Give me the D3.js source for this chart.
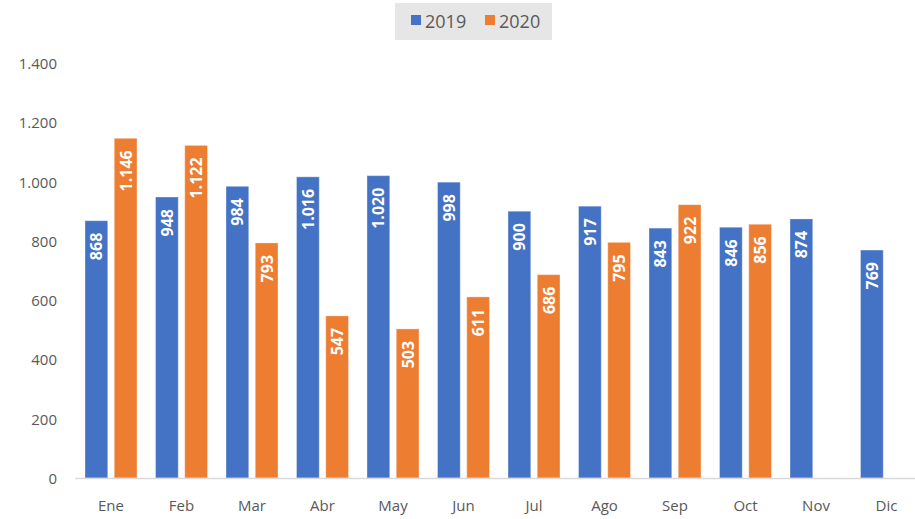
<!DOCTYPE html>
<html>
<head>
<meta charset="utf-8">
<script src="https://cdn.jsdelivr.net/npm/d3@7"></script>
<style>
  body { margin: 0; background: #fff; }
  svg { display: block; font-family: "Open Sans", Lato, sans-serif; }
</style>
</head>
<body>
<svg id="chart" width="915" height="519"></svg>
<script>
// data
var months = ["Ene", "Feb", "Mar", "Abr", "May", "Jun", "Jul", "Ago", "Sep", "Oct", "Nov", "Dic"];
var series = ["2019", "2020"];
var values2019 = [868, 948, 984, 1016, 1020, 998, 900, 917, 843, 846, 874, 769];
var values2020 = [1146, 1122, 793, 547, 503, 611, 686, 795, 922, 856, null, null];
var yTicks = [0, 200, 400, 600, 800, 1000, 1200, 1400];
var colors = { "2019": "#4472C4", "2020": "#ED7D31" };

var svg = d3.select("#chart");

// number format with dot for thousands (Spanish)
var es = d3.formatLocale({ decimal: ",", thousands: ".", grouping: [3], currency: ["", "€"] });
var fmt = es.format(",d");

var y = d3.scaleLinear().domain([0, 1400]).range([478, 63]);
var x0 = d3.scaleBand().domain(months).range([75.75, 921.75]).padding(0);
var x1 = d3.scaleBand().domain(series).range([9.25, 61.25]).paddingInner(0.222).paddingOuter(0);

var rows = months.map(function(m, i) {
    return { month: m, vals: [
        { key: "2019", value: values2019[i] },
        { key: "2020", value: values2020[i] }
    ] };
});

// y tick labels
svg.append("g")
    .selectAll("text")
    .data(yTicks)
    .enter()
    .append("text")
    .attr("x", 57)
    .attr("y", function(d) { return y(d); })
    .attr("text-anchor", "end")
    .attr("dominant-baseline", "central")
    .attr("fill", "#595959")
    .style("font-size", "15px")
    .text(function(d) { return fmt(d); });

// bars
var groups = svg.append("g")
    .selectAll("g")
    .data(rows)
    .enter()
    .append("g")
    .attr("transform", function(d) { return "translate(" + x0(d.month) + ",0)"; });

var bars = groups.selectAll("g.bar")
    .data(function(d) { return d.vals.filter(function(v) { return v.value != null; }); })
    .enter()
    .append("g")
    .attr("class", "bar");

bars.append("rect")
    .attr("x", function(d) { return x1(d.key); })
    .attr("y", function(d) { return y(d.value); })
    .attr("width", x1.bandwidth())
    .attr("height", function(d) { return y(0) - y(d.value); })
    .attr("fill", function(d) { return colors[d.key]; })
    .attr("stroke", "#fff")
    .attr("stroke-opacity", 0.35)
    .attr("stroke-width", 1);

bars.append("text")
    .attr("transform", function(d) {
        return "translate(" + (x1(d.key) + x1.bandwidth() / 2) + "," + (y(d.value) + 12) + ") rotate(-90)";
    })
    .attr("text-anchor", "end")
    .attr("dominant-baseline", "central")
    .attr("fill", "#fff")
    .style("font-size", "16px")
    .style("font-weight", "bold")
    .text(function(d) { return fmt(d.value); });

// x axis line
svg.append("line")
    .attr("x1", 75).attr("x2", 915)
    .attr("y1", y(0) + 0.5).attr("y2", y(0) + 0.5)
    .attr("stroke", "#D9D9D9")
    .attr("stroke-width", 1.3);

// month labels
svg.append("g")
    .selectAll("text")
    .data(months)
    .enter()
    .append("text")
    .attr("x", function(d) { return x0(d) + 35.25; })
    .attr("y", 505)
    .attr("text-anchor", "middle")
    .attr("dominant-baseline", "central")
    .attr("fill", "#595959")
    .style("font-size", "15px")
    .text(function(d) { return d; });

// legend
var legend = svg.append("g");
legend.append("rect")
    .attr("x", 395).attr("y", 3)
    .attr("width", 157).attr("height", 37)
    .attr("fill", "#E7E6E6");

var items = legend.selectAll("g")
    .data(series)
    .enter()
    .append("g")
    .attr("transform", function(d, i) { return "translate(" + (411 + i * 74) + ",0)"; });

items.append("rect")
    .attr("x", 0).attr("y", 15)
    .attr("width", 10).attr("height", 10)
    .attr("fill", function(d) { return colors[d]; });

items.append("text")
    .attr("x", 14).attr("y", 21)
    .attr("dominant-baseline", "central")
    .attr("fill", "#595959")
    .style("font-size", "18px")
    .text(function(d) { return d; });
</script>
</body>
</html>
